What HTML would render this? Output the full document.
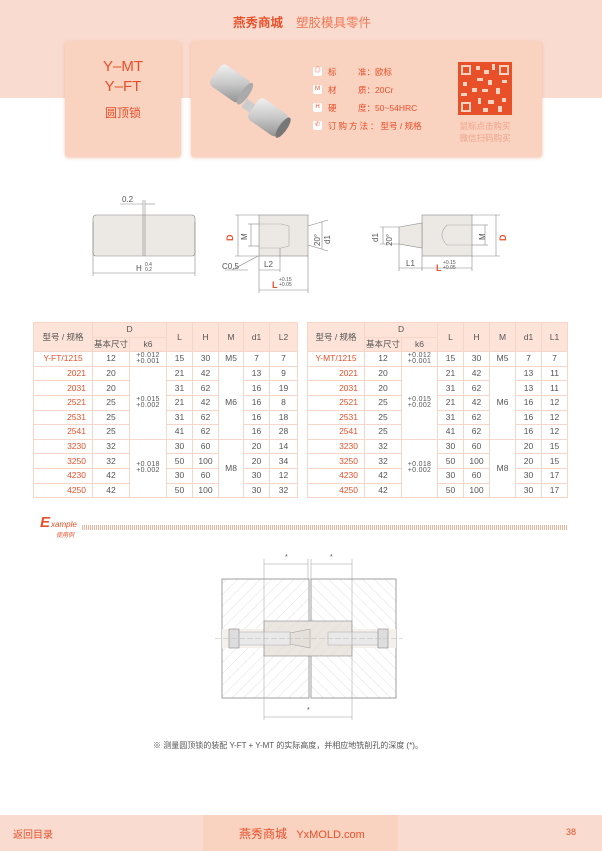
<!DOCTYPE html>
<html><head><meta charset="utf-8">
<style>
*{margin:0;padding:0;box-sizing:border-box}
body{width:602px;height:851px;position:relative;background:#fff;font-family:"Liberation Sans","Noto Sans CJK SC",sans-serif;overflow:hidden;color:#555}
.abs{position:absolute}
.band{left:0;top:0;width:602px;height:98px;background:#fadbd0}
.card{background:#f9d2c0;border-radius:3px;box-shadow:0 1px 3px rgba(230,150,120,.5)}
.or{color:#e8502a}
table{position:absolute;border-collapse:collapse;table-layout:fixed;font-size:8.5px}
td{border:1px solid #f6d6c8;text-align:center;height:14.6px;color:#555;line-height:9px;padding:0}
.h td{background:#fde3d8}
td.m{color:#e8502a;text-align:right;padding-right:6px}
td.m0{color:#e8502a;text-align:center}
.tol{font-size:7px;line-height:6px;letter-spacing:.3px}
.spec{font-size:8.5px;color:#e8502a}
.ic{position:absolute;width:9px;height:9px;background:#fff;border-radius:2px;font-size:6px;text-align:center;line-height:9px;color:#e8502a}
</style></head><body>
<div class="abs band"></div>
<div class="abs" style="left:233px;top:12px;font-size:12.5px;font-weight:bold;color:#e8502a">燕秀商城</div>
<div class="abs" style="left:296px;top:12px;font-size:12.5px;color:#ee7a55">塑胶模具零件</div>

<div class="abs card" style="left:65px;top:41px;width:116px;height:116px"></div>
<div class="abs" style="left:65px;top:57px;width:116px;text-align:center;font-size:15px;color:#e8502a;line-height:20px">Y–MT<br>Y–FT</div>
<div class="abs" style="left:65px;top:104px;width:116px;text-align:center;font-size:12px;color:#e8502a">圆顶锁</div>

<div class="abs card" style="left:191px;top:41px;width:351px;height:116px"></div>
<svg class="abs" style="left:205px;top:60px" width="90" height="82">
<defs><linearGradient id="g" x1="0" y1="0" x2="1" y2="1"><stop offset="0" stop-color="#f4f4f4"/><stop offset=".5" stop-color="#c9c9c9"/><stop offset="1" stop-color="#8e8e8e"/></linearGradient></defs>
<g transform="rotate(35 25 22)"><rect x="8" y="10" width="36" height="26" rx="5" fill="url(#g)"/><ellipse cx="44" cy="23" rx="4" ry="13" fill="#aaa"/></g>
<g transform="rotate(35 60 55)"><rect x="36" y="52" width="10" height="10" fill="#ccc"/><rect x="46" y="42" width="36" height="26" rx="5" fill="url(#g)"/><ellipse cx="82" cy="55" rx="4" ry="12" fill="#777"/></g>
</svg>
<div class="ic" style="left:313px;top:67px">◎</div>
<div class="ic" style="left:313px;top:85px">M</div>
<div class="ic" style="left:313px;top:103px">H</div>
<div class="ic" style="left:313px;top:121px">✆</div>
<div class="abs spec" style="left:328px;top:66px">标</div><div class="abs spec" style="left:358px;top:66px">准：欧标</div>
<div class="abs spec" style="left:328px;top:84px">材</div><div class="abs spec" style="left:358px;top:84px">质：20Cr</div>
<div class="abs spec" style="left:328px;top:102px">硬</div><div class="abs spec" style="left:358px;top:102px">度：50~54HRC</div>
<div class="abs spec" style="left:328px;top:120px;letter-spacing:2px">订购方法：<span style="letter-spacing:0">型号 / 规格</span></div>
<svg class="abs" style="left:458px;top:62px" width="54" height="53">
<rect width="54" height="53" fill="#e8502a"/>
<g fill="#f9d2c0">
<rect x="3" y="3" width="10" height="10"/><rect x="41" y="3" width="10" height="10"/><rect x="3" y="40" width="10" height="10"/>
<rect x="18" y="4" width="4" height="4"/><rect x="26" y="8" width="5" height="4"/><rect x="34" y="2" width="3" height="6"/>
<rect x="19" y="16" width="6" height="3"/><rect x="30" y="18" width="4" height="5"/><rect x="5" y="20" width="4" height="4"/><rect x="44" y="18" width="5" height="3"/>
<rect x="14" y="26" width="5" height="4"/><rect x="24" y="27" width="6" height="3"/><rect x="38" y="26" width="4" height="6"/><rect x="3" y="31" width="6" height="3"/>
<rect x="20" y="36" width="3" height="6"/><rect x="30" y="38" width="6" height="4"/><rect x="44" y="36" width="4" height="4"/><rect x="25" y="46" width="5" height="4"/><rect x="40" y="44" width="4" height="6"/>
</g>
<g fill="#e8502a"><rect x="5" y="5" width="6" height="6"/><rect x="43" y="5" width="6" height="6"/><rect x="5" y="42" width="6" height="6"/></g>
</svg>
<div class="abs" style="left:455px;top:120px;width:60px;text-align:center;font-size:8.5px;color:#f0a48a;line-height:12px">鼠标点击购买<br>微信扫码购买</div>

<!-- drawings -->
<svg class="abs" style="left:0;top:180px" width="602" height="120" font-family="Liberation Sans" font-size="8" fill="#555">
<g stroke="#888" stroke-width=".6" fill="none">
<rect x="93" y="35" width="102" height="41" rx="3" fill="#ece9e5"/>
<line x1="143" y1="35" x2="143" y2="76"/><line x1="145" y1="35" x2="145" y2="76"/>
<line x1="93" y1="42" x2="93" y2="96"/><line x1="195" y1="42" x2="195" y2="96"/><line x1="93" y1="93" x2="195" y2="93"/>
<line x1="120" y1="24" x2="143" y2="24"/><line x1="145" y1="24" x2="155" y2="24"/><line x1="143" y1="20" x2="143" y2="35"/><line x1="145" y1="20" x2="145" y2="35"/>
<rect x="259" y="35" width="49" height="41" fill="#ece9e5"/>
<path d="M259 44h22l8 2v20l-8 2h-22" stroke="#aaa"/>
<line x1="235" y1="35" x2="259" y2="35"/><line x1="235" y1="76" x2="259" y2="76"/><line x1="238" y1="35" x2="238" y2="76"/>
<line x1="248" y1="44" x2="259" y2="44"/><line x1="248" y1="66" x2="259" y2="66"/><line x1="251" y1="44" x2="251" y2="66"/>
<line x1="308" y1="46" x2="328" y2="40"/><line x1="308" y1="65" x2="328" y2="71"/><line x1="322" y1="42" x2="322" y2="69"/>
<line x1="259" y1="76" x2="259" y2="113"/><line x1="308" y1="76" x2="308" y2="113"/><line x1="259" y1="110" x2="308" y2="110"/>
<line x1="280" y1="68" x2="280" y2="92"/><line x1="259" y1="90" x2="280" y2="90"/><line x1="232" y1="90" x2="258" y2="76"/><line x1="225" y1="90" x2="248" y2="90"/>
<rect x="422" y="35" width="50" height="41" fill="#ece9e5"/>
<path d="M399 47l23-4v25l-23-4z" fill="#ece9e5"/>
<path d="M472 45h-25q-10 10 0 20h25" stroke="#aaa"/>
<line x1="472" y1="35" x2="500" y2="35"/><line x1="472" y1="76" x2="500" y2="76"/><line x1="496" y1="35" x2="496" y2="76"/>
<line x1="472" y1="45" x2="488" y2="45"/><line x1="472" y1="65" x2="488" y2="65"/><line x1="485" y1="45" x2="485" y2="65"/>
<line x1="380" y1="47" x2="399" y2="47"/><line x1="380" y1="64" x2="399" y2="64"/><line x1="383" y1="47" x2="383" y2="64"/>
<line x1="399" y1="64" x2="399" y2="91"/><line x1="422" y1="76" x2="422" y2="91"/><line x1="472" y1="76" x2="472" y2="91"/>
<line x1="399" y1="88" x2="422" y2="88"/><line x1="422" y1="88" x2="472" y2="88"/>
</g>
<text x="122" y="22">0.2</text><text x="136" y="91">H</text><text x="145" y="86" font-size="5">0.4</text><text x="145" y="91" font-size="5">0.2</text>
<text x="233" y="61" fill="#e8502a" font-weight="bold" transform="rotate(-90 233 61)" font-size="9">D</text><text x="247" y="60" transform="rotate(-90 247 60)">M</text>
<text x="320" y="66" transform="rotate(-90 320 66)">20°</text><text x="330" y="64" transform="rotate(-90 330 64)">d1</text>
<text x="222" y="89">C0.5</text><text x="264" y="87">L2</text>
<text x="272" y="108" fill="#e8502a" font-weight="bold" font-size="9">L</text><text x="279" y="101" font-size="5">+0.15</text><text x="279" y="106" font-size="5">+0.05</text>
<text x="378" y="62" transform="rotate(-90 378 62)">d1</text><text x="392" y="66" transform="rotate(-90 392 66)">20°</text>
<text x="485" y="60" transform="rotate(-90 485 60)">M</text><text x="506" y="61" fill="#e8502a" font-weight="bold" font-size="9" transform="rotate(-90 506 61)">D</text>
<text x="406" y="86">L1</text><text x="436" y="91" fill="#e8502a" font-weight="bold" font-size="9">L</text><text x="443" y="84" font-size="5">+0.15</text><text x="443" y="89" font-size="5">+0.05</text>
</svg>

<!-- tables -->
<table style="left:33px;top:322px;width:264px">
<colgroup><col style="width:59px"><col style="width:37px"><col style="width:37px"><col style="width:26px"><col style="width:26px"><col style="width:25px"><col style="width:26px"><col style="width:28px"></colgroup>
<tr class="h"><td rowspan="2">型号 / 规格</td><td colspan="2">D</td><td rowspan="2">L</td><td rowspan="2">H</td><td rowspan="2">M</td><td rowspan="2">d1</td><td rowspan="2">L2</td></tr>
<tr class="h"><td>基本尺寸</td><td>k6</td></tr>
<tr><td class="m0">Y-FT/1215</td><td>12</td><td class="tol">+0.012<br>+0.001</td><td>15</td><td>30</td><td>M5</td><td>7</td><td>7</td></tr>
<tr><td class="m">2021</td><td>20</td><td rowspan="5" class="tol">+0.015<br>+0.002</td><td>21</td><td>42</td><td rowspan="5">M6</td><td>13</td><td>9</td></tr>
<tr><td class="m">2031</td><td>20</td><td>31</td><td>62</td><td>16</td><td>19</td></tr>
<tr><td class="m">2521</td><td>25</td><td>21</td><td>42</td><td>16</td><td>8</td></tr>
<tr><td class="m">2531</td><td>25</td><td>31</td><td>62</td><td>16</td><td>18</td></tr>
<tr><td class="m">2541</td><td>25</td><td>41</td><td>62</td><td>16</td><td>28</td></tr>
<tr><td class="m">3230</td><td>32</td><td rowspan="4" class="tol">+0.018<br>+0.002</td><td>30</td><td>60</td><td rowspan="4">M8</td><td>20</td><td>14</td></tr>
<tr><td class="m">3250</td><td>32</td><td>50</td><td>100</td><td>20</td><td>34</td></tr>
<tr><td class="m">4230</td><td>42</td><td>30</td><td>60</td><td>30</td><td>12</td></tr>
<tr><td class="m">4250</td><td>42</td><td>50</td><td>100</td><td>30</td><td>32</td></tr>
</table>
<table style="left:307px;top:322px;width:260px">
<colgroup><col style="width:57px"><col style="width:37px"><col style="width:36px"><col style="width:26px"><col style="width:26px"><col style="width:26px"><col style="width:26px"><col style="width:26px"></colgroup>
<tr class="h"><td rowspan="2">型号 / 规格</td><td colspan="2">D</td><td rowspan="2">L</td><td rowspan="2">H</td><td rowspan="2">M</td><td rowspan="2">d1</td><td rowspan="2">L1</td></tr>
<tr class="h"><td>基本尺寸</td><td>k6</td></tr>
<tr><td class="m0">Y-MT/1215</td><td>12</td><td class="tol">+0.012<br>+0.001</td><td>15</td><td>30</td><td>M5</td><td>7</td><td>7</td></tr>
<tr><td class="m">2021</td><td>20</td><td rowspan="5" class="tol">+0.015<br>+0.002</td><td>21</td><td>42</td><td rowspan="5">M6</td><td>13</td><td>11</td></tr>
<tr><td class="m">2031</td><td>20</td><td>31</td><td>62</td><td>13</td><td>11</td></tr>
<tr><td class="m">2521</td><td>25</td><td>21</td><td>42</td><td>16</td><td>12</td></tr>
<tr><td class="m">2531</td><td>25</td><td>31</td><td>62</td><td>16</td><td>12</td></tr>
<tr><td class="m">2541</td><td>25</td><td>41</td><td>62</td><td>16</td><td>12</td></tr>
<tr><td class="m">3230</td><td>32</td><td rowspan="4" class="tol">+0.018<br>+0.002</td><td>30</td><td>60</td><td rowspan="4">M8</td><td>20</td><td>15</td></tr>
<tr><td class="m">3250</td><td>32</td><td>50</td><td>100</td><td>20</td><td>15</td></tr>
<tr><td class="m">4230</td><td>42</td><td>30</td><td>60</td><td>30</td><td>17</td></tr>
<tr><td class="m">4250</td><td>42</td><td>50</td><td>100</td><td>30</td><td>17</td></tr>
</table>

<!-- example -->
<div class="abs" style="left:40px;top:514px;font-size:15px;font-style:italic;color:#e8502a;font-weight:bold">E</div>
<div class="abs" style="left:51px;top:520px;font-size:8px;font-style:italic;color:#e8502a">xample</div>
<div class="abs" style="left:56px;top:530px;font-size:6px;font-style:italic;color:#e8502a">使用例</div>
<div class="abs" style="left:82px;top:525px;width:486px;height:5px;background:repeating-linear-gradient(90deg,#f4b49c 0 1px,transparent 1px 2px)"></div>

<svg class="abs" style="left:0;top:545px" width="602" height="185" font-family="Liberation Sans" font-size="7" fill="#555">
<defs><pattern id="hl" width="8" height="8" patternUnits="userSpaceOnUse" patternTransform="rotate(45)"><line x1="0" y1="0" x2="0" y2="8" stroke="#ccc" stroke-width=".6"/></pattern>
<pattern id="hr" width="8" height="8" patternUnits="userSpaceOnUse" patternTransform="rotate(-45)"><line x1="0" y1="0" x2="0" y2="8" stroke="#ccc" stroke-width=".6"/></pattern></defs>
<rect x="222" y="34" width="87" height="119" fill="url(#hl)" stroke="#888" stroke-width=".8"/>
<rect x="311" y="34" width="85" height="119" fill="url(#hr)" stroke="#888" stroke-width=".8"/>
<rect x="222" y="84" width="42" height="19" fill="#f4f0ec"/><rect x="352" y="84" width="44" height="19" fill="#f4f0ec"/>
<rect x="264" y="76" width="88" height="35" fill="#ebe6e0" stroke="#888" stroke-width=".6"/>
<rect x="264" y="76" width="88" height="35" fill="url(#hl)" opacity=".6"/>
<path d="M290 88l20-4v19l-20-4z" fill="#e6e0da" stroke="#999" stroke-width=".5"/>
<rect x="238" y="87" width="52" height="13" fill="#e9e9e9" stroke="#aaa" stroke-width=".5"/>
<rect x="328" y="87" width="50" height="13" fill="#e9e9e9" stroke="#aaa" stroke-width=".5"/>
<rect x="229" y="84" width="10" height="19" fill="#ddd" stroke="#888" stroke-width=".6"/>
<rect x="378" y="84" width="10" height="19" fill="#ddd" stroke="#888" stroke-width=".6"/>
<line x1="215" y1="93.5" x2="403" y2="93.5" stroke="#bbb" stroke-width=".5" stroke-dasharray="6 2"/>
<g stroke="#999" stroke-width=".5"><line x1="264" y1="14" x2="264" y2="175"/><line x1="352" y1="14" x2="352" y2="175"/><line x1="308" y1="14" x2="308" y2="34"/><line x1="311" y1="14" x2="311" y2="34"/>
<line x1="264" y1="19" x2="308" y2="19"/><line x1="311" y1="19" x2="352" y2="19"/><line x1="264" y1="172" x2="352" y2="172"/></g>
<text x="285" y="14">*</text><text x="330" y="14">*</text><text x="307" y="167">*</text>
</svg>
<div class="abs" style="left:153px;top:740px;font-size:8px;color:#555">※  测量圆顶锁的装配 Y-FT + Y-MT 的实际高度，并相应地铣削孔的深度 (*)。</div>

<div class="abs" style="left:0;top:815px;width:602px;height:36px;background:#fadbd0"></div>
<div class="abs" style="left:203px;top:815px;width:195px;height:36px;background:#f9d2c0"></div>
<div class="abs" style="left:13px;top:826px;font-size:10px;color:#e8502a">返回目录</div>
<div class="abs" style="left:239px;top:825px;font-size:12px;color:#e8502a">燕秀商城 <span style="margin-left:6px;font-size:11px">YxMOLD.com</span></div>
<div class="abs" style="left:566px;top:827px;font-size:9px;color:#e8502a">38</div>
</body></html>
